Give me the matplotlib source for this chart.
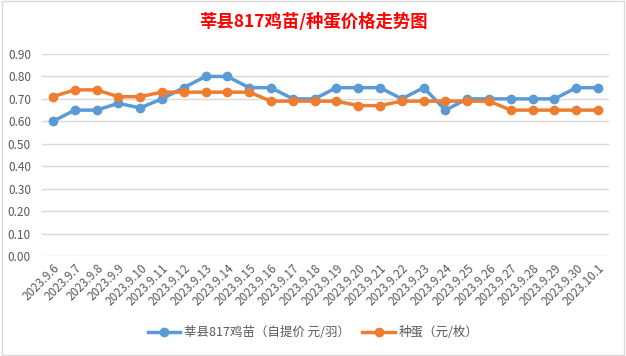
import matplotlib
matplotlib.use("Agg")
import matplotlib.pyplot as plt
from matplotlib.patches import Rectangle

plt.rcParams['font.family'] = ['Noto Sans CJK SC', 'DejaVu Sans']

# --- Data ---
dates = ["2023.9.6", "2023.9.7", "2023.9.8", "2023.9.9", "2023.9.10", "2023.9.11",
         "2023.9.12", "2023.9.13", "2023.9.14", "2023.9.15", "2023.9.16", "2023.9.17",
         "2023.9.18", "2023.9.19", "2023.9.20", "2023.9.21", "2023.9.22", "2023.9.23",
         "2023.9.24", "2023.9.25", "2023.9.26", "2023.9.27", "2023.9.28", "2023.9.29",
         "2023.9.30", "2023.10.1"]
chick_price = [0.60, 0.65, 0.65, 0.68, 0.66, 0.70, 0.75, 0.80, 0.80, 0.75, 0.75, 0.70, 0.70,
               0.75, 0.75, 0.75, 0.70, 0.75, 0.65, 0.70, 0.70, 0.70, 0.70, 0.70, 0.75, 0.75]
egg_price = [0.71, 0.74, 0.74, 0.71, 0.71, 0.73, 0.73, 0.73, 0.73, 0.73, 0.69, 0.69, 0.69,
             0.69, 0.67, 0.67, 0.69, 0.69, 0.69, 0.69, 0.69, 0.65, 0.65, 0.65, 0.65, 0.65]
yticks = [0.0, 0.1, 0.2, 0.3, 0.4, 0.5, 0.6, 0.7, 0.8, 0.9]

title = "莘县817鸡苗/种蛋价格走势图"
label_chick = "莘县817鸡苗（自提价 元/羽）"
label_egg = "种蛋（元/枚）"

fig = plt.figure(figsize=(6.26, 3.56), dpi=100)
ax = fig.add_axes([42 / 626, 1 - 256 / 356, 567 / 626, 202 / 356])

x = list(range(len(dates)))
ax.plot(x, chick_price, color="#5B9BD5", lw=2.5, marker="o", ms=6, label=label_chick)
ax.plot(x, egg_price, color="#ED7D31", lw=2.5, marker="o", ms=6, label=label_egg)

ax.set_xlim(-0.5, len(dates) - 0.5)
ax.set_ylim(0, 0.9)
ax.set_yticks(yticks)
ax.set_yticklabels([f"{v:.2f}" for v in yticks])
ax.set_xticks(x)
ax.set_xticklabels(dates, rotation=45, ha="right", rotation_mode="anchor")
ax.tick_params(axis="both", length=0, labelsize=8.5, labelcolor="#595959")
ax.tick_params(axis="x", pad=4)
ax.tick_params(axis="y", pad=8)
ax.grid(axis="y", color="#D9D9D9", lw=1)
ax.set_axisbelow(True)
for s in ax.spines.values():
    s.set_visible(False)

fig.text(0.5, 1 - 22 / 356, title, ha="center", va="center", color="#FF0000",
         fontsize=12.5, fontweight="bold")

fig.legend(loc="center", bbox_to_anchor=(0.5, 1 - 333 / 356), ncol=2, frameon=False,
           fontsize=9, labelcolor="#595959", handlelength=2.6, columnspacing=1.0,
           handletextpad=0.3)

# chart border
fig.patches.append(Rectangle((0.003, 0.003), 0.994, 0.994, transform=fig.transFigure,
                             fill=False, edgecolor="#D9D9D9", lw=1))

fig.savefig("out.png", dpi=100)
